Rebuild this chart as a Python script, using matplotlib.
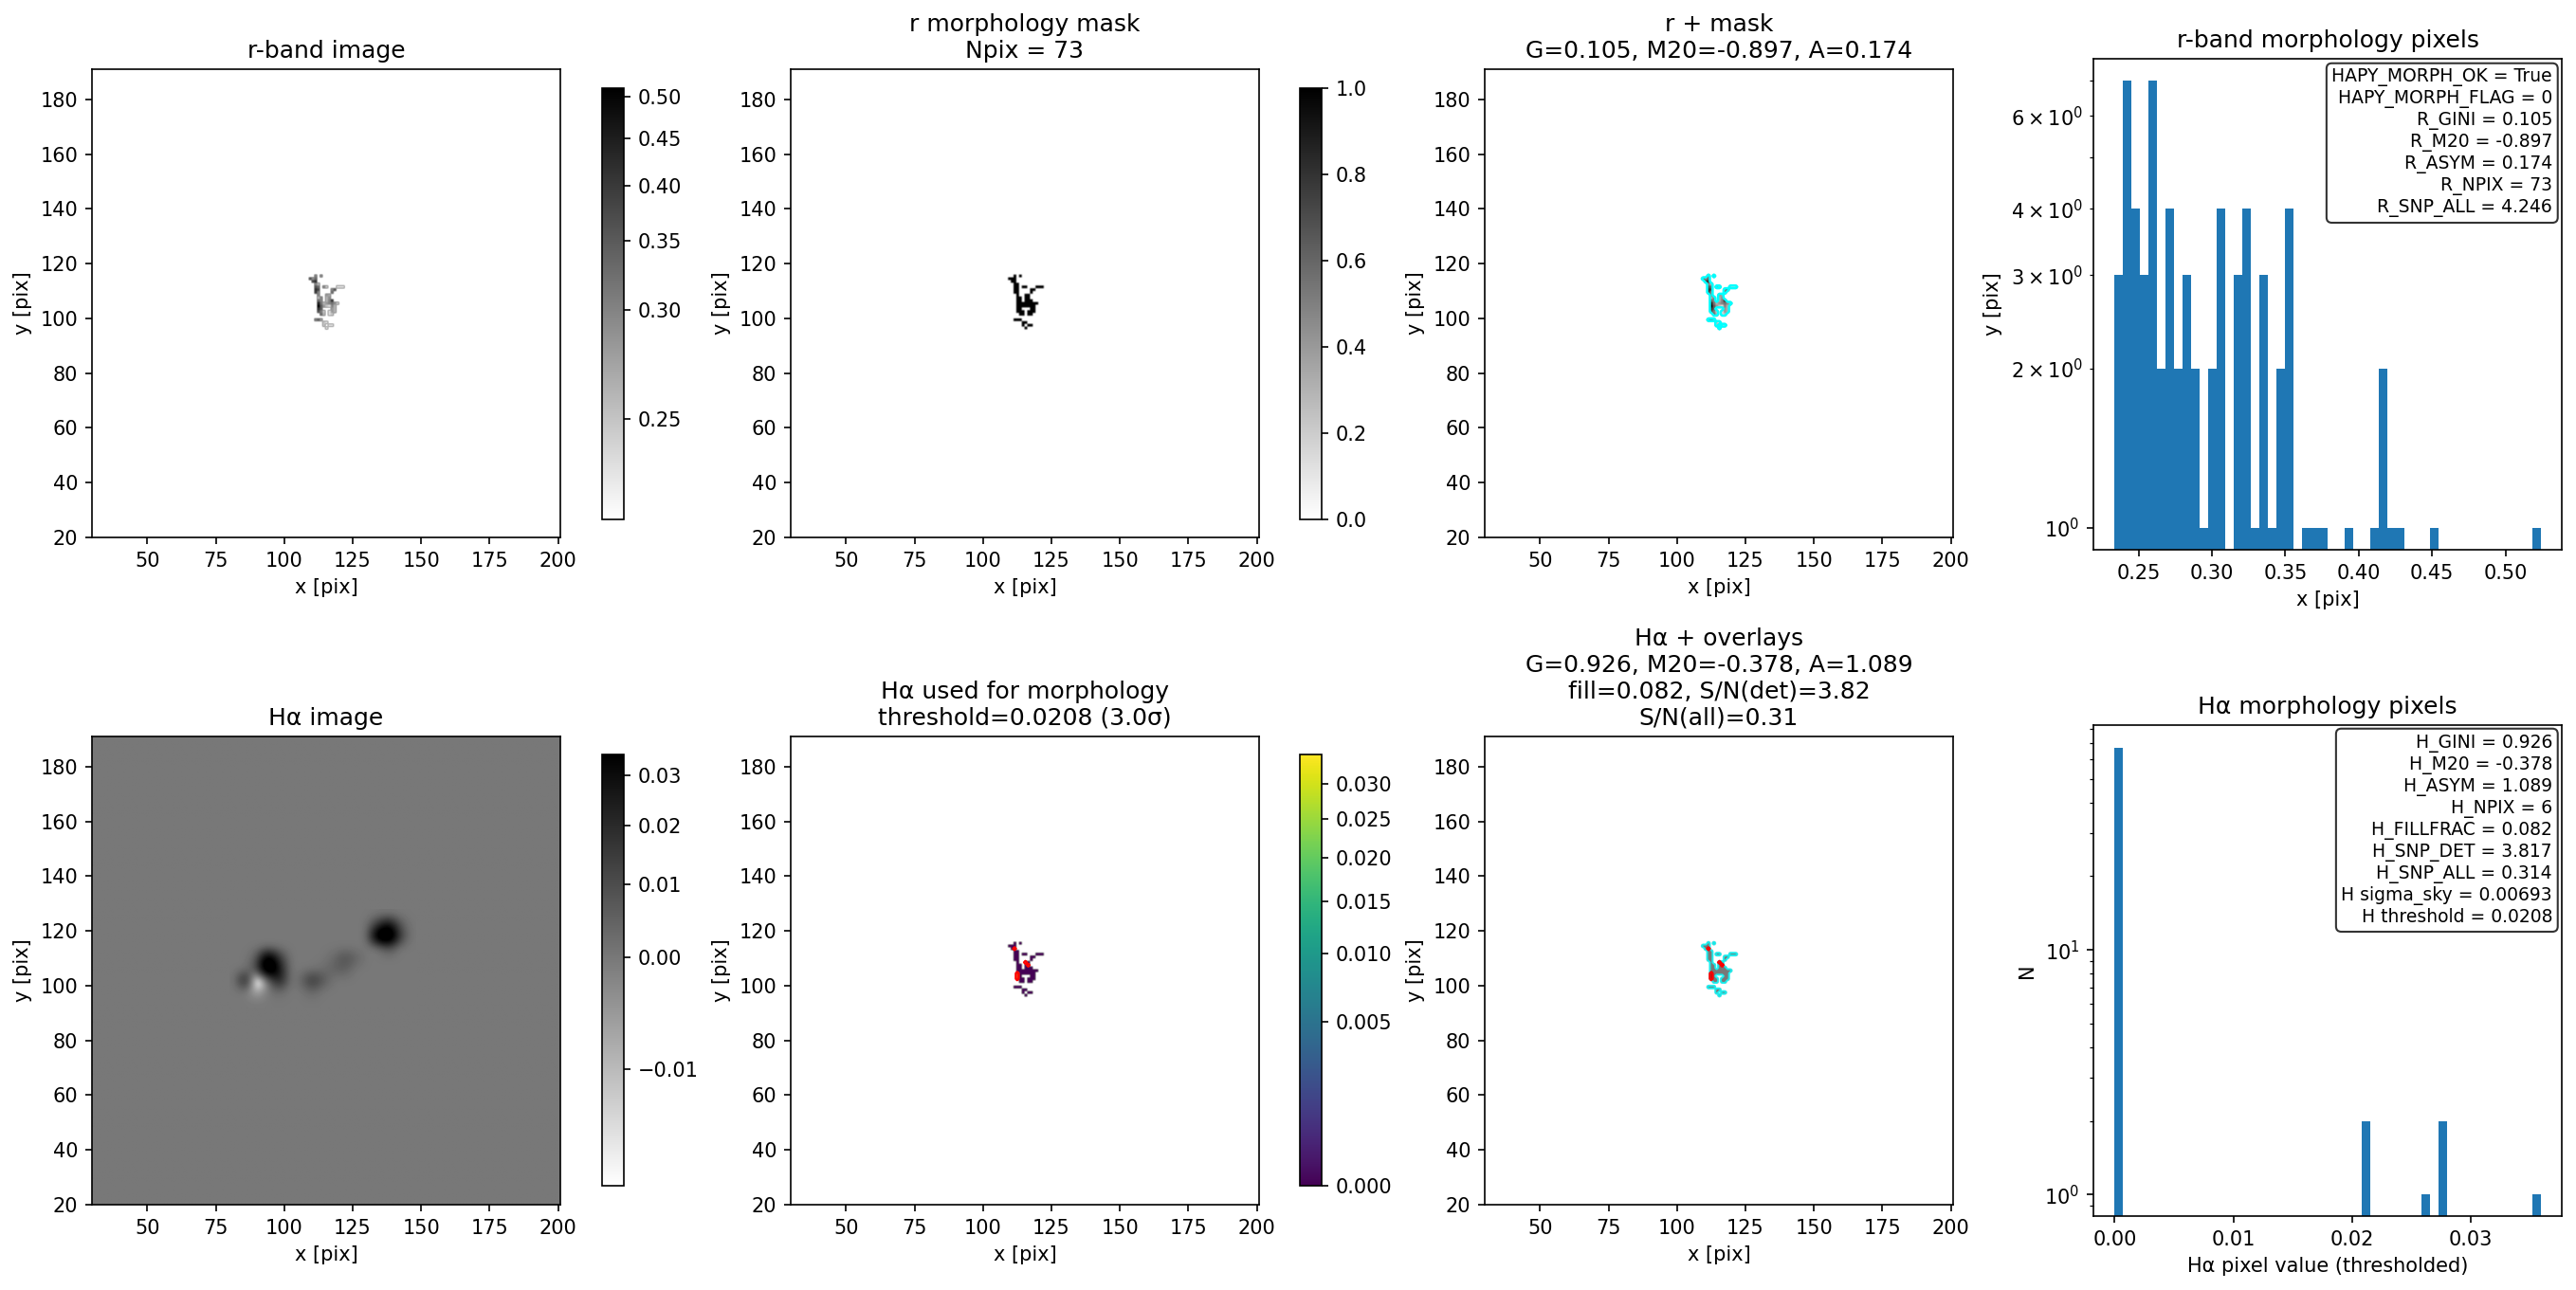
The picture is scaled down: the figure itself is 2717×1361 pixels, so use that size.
import numpy as np
import matplotlib
matplotlib.use("Agg")
import matplotlib.pyplot as plt
from matplotlib.colors import PowerNorm

W, H, DPI = 2717, 1361, 150

# morphology mask pixels, row by row
mask_y = [115.5, 114.5, 113.5, 112.5, 111.5, 110.5, 109.5, 108.5, 107.5, 106.5,
          105.5, 104.5, 103.5, 102.5, 101.5, 99.5, 98.5, 97.5, 96.5]
mask_x = [[111.5, 113.5],
          [109.5, 110.5, 111.5],
          [110.5, 111.5],
          [111.5, 112.5],
          [111.5, 112.5, 114.5, 115.5, 119.5, 120.5, 121.5],
          [111.5, 112.5, 117.5, 118.5],
          [111.5, 112.5, 117.5],
          [112.5, 115.5, 116.5],
          [112.5, 113.5, 115.5, 116.5],
          [112.5, 113.5, 115.5, 116.5, 117.5],
          [112.5, 113.5, 114.5, 115.5, 116.5, 117.5, 118.5, 119.5],
          [112.5, 113.5, 114.5, 115.5, 116.5, 117.5, 118.5],
          [112.5, 113.5, 117.5, 118.5],
          [112.5, 113.5, 114.5, 116.5, 117.5, 118.5],
          [113.5, 114.5, 116.5, 117.5],
          [111.5, 112.5, 113.5],
          [114.5, 115.5],
          [114.5, 116.5, 117.5],
          [115.5]]
mask_r = [[.30, .30],
          [.36, .29, .33],
          [.38, .42],
          [.30, .26],
          [.36, .33, .30, .25, .24, .24, .24],
          [.42, .38, .30, .36],
          [.40, .30, .33],
          [.30, .28, .27],
          [.26, .30, .26, .29],
          [.33, .30, .26, .30, .41],
          [.45, .32, .26, .28, .30, .32, .29, .25],
          [.52, .35, .28, .25, .24, .30, .26],
          [.42, .35, .28, .26],
          [.36, .31, .25, .24, .28, .26],
          [.33, .26, .24, .25],
          [.31, .34, .28],
          [.25, .24],
          [.25, .24, .24],
          [.24]]

# Halpha pixels above threshold
ha_x = [111.5, 115.5, 116.5, 112.5, 112.5, 112.5]
ha_y = [113.5, 108.5, 107.5, 104.5, 103.5, 102.5]
ha_v = [.026, .021, .021, .0275, .0355, .0275]

# large scale structure of the Halpha image, 4 pix cells over x 80-148, y 92-128.
# The pixel noise of the original can't be read off, so the sky is left flat.
# Cores are saturated in the original, so those cells sit past the colour limits.
ha_sky = 0.0
ha_cells = [
    [0, 0, 0, 0, 0, 0, 0, 0, 0, 0, 0, 0, 0, 0, 0, 0, 0],
    [0, 0, 0, 0, 0, 0, 0, 0, 0, 0, 0, 0, 0, .018, .036, .008, 0],
    [0, 0, 0, 0, 0, 0, 0, 0, 0, 0, 0, 0, 0, .050, .060, .016, 0],
    [0, 0, 0, 0, 0, 0, 0, 0, 0, 0, 0, 0, 0, 0, .010, 0, 0],
    [0, 0, .006, .050, .018, 0, 0, 0, 0, .003, .010, .005, 0, 0, 0, 0, 0],
    [0, 0, .012, .060, .030, 0, 0, 0, .002, .005, .006, 0, 0, 0, 0, 0, 0],
    [0, .028, -.030, 0, .028, 0, .003, .018, .008, 0, 0, 0, 0, 0, 0, 0, 0],
    [0, 0, -.010, 0, .003, 0, 0, .004, 0, 0, 0, 0, 0, 0, 0, 0, 0],
    [0, 0, 0, 0, 0, 0, 0, 0, 0, 0, 0, 0, 0, 0, 0, 0, 0],
]

r_hist_range = [0.2338, 0.5238]
r_hist_counts = [3, 7, 4, 3, 7, 2, 4, 2, 3, 2, 1, 2, 4, 0, 3, 4, 1, 3, 1, 2, 4, 0, 1, 1, 1,
                 0, 0, 1, 0, 0, 1, 2, 1, 1, 0, 0, 0, 1, 0, 0, 0, 0, 0, 0, 0, 0, 0, 0, 0, 1]
ha_hist_range = [0.0, 0.0359]
ha_hist_counts = [67, 0, 0, 0, 0, 0, 0, 0, 0, 0, 0, 0, 0, 0, 0, 0, 0, 0, 0, 0, 0, 0, 0, 0, 0,
                  0, 0, 0, 0, 2, 0, 0, 0, 0, 0, 0, 1, 0, 2, 0, 0, 0, 0, 0, 0, 0, 0, 0, 0, 1]
ha_hist_ticks = [0.0, 0.01, 0.02, 0.03]

r_lines = ["HAPY_MORPH_OK = True", "HAPY_MORPH_FLAG = 0", "R_GINI = 0.105", "R_M20 = -0.897",
           "R_ASYM = 0.174", "R_NPIX = 73", "R_SNP_ALL = 4.246"]
ha_lines = ["H_GINI = 0.926", "H_M20 = -0.378", "H_ASYM = 1.089", "H_NPIX = 6", "H_FILLFRAC = 0.082",
            "H_SNP_DET = 3.817", "H_SNP_ALL = 0.314", "H sigma_sky = 0.00693", "H threshold = 0.0208"]

# image grid
x_edges = np.arange(29, 202)
y_edges = np.arange(19, 193)
x_c = x_edges[:-1] + 0.5
y_c = y_edges[:-1] + 0.5
extent = [x_edges[0], x_edges[-1], y_edges[0], y_edges[-1]]
shape = (len(y_c), len(x_c))

r_img = np.full(shape, np.nan)
mask = np.zeros(shape)
ha_thr = np.full(shape, np.nan)
for yy, xs, vs in zip(mask_y, mask_x, mask_r):
    j = int(yy - y_edges[0])
    for xx, vv in zip(xs, vs):
        i = int(xx - x_edges[0])
        r_img[j, i] = vv
        mask[j, i] = 1
        ha_thr[j, i] = 0.0
ha_mask = np.zeros(shape)
for xx, yy, vv in zip(ha_x, ha_y, ha_v):
    i, j = int(xx - x_edges[0]), int(yy - y_edges[0])
    ha_thr[j, i] = vv
    ha_mask[j, i] = 1

r_norm = PowerNorm(0.5, vmin=0.2349, vmax=0.5111)
ha_norm = PowerNorm(0.5, vmin=-0.01351, vmax=0.03457)
thr_norm = PowerNorm(0.5, vmin=0.0, vmax=0.0346)


def px_axes(fig, left, top, right, bottom):
    return fig.add_axes([left / W, 1 - bottom / H, (right - left) / W, (bottom - top) / H])


def image_panel(ax, img, title, **kw):
    im = ax.imshow(img, origin="lower", extent=extent, **kw)
    ax.set_xlim(29.8, 200.8)
    ax.set_ylim(20, 191)
    ax.set_xticks(np.arange(50, 201, 25))
    ax.set_yticks(np.arange(20, 181, 20))
    ax.set_xlabel("x [pix]")
    ax.set_ylabel("y [pix]")
    ax.set_title(title, fontsize=12)
    return im


def hist_panel(ax, counts, hist_range, title, xlabel, ylabel, lines, ylim):
    edges = np.linspace(hist_range[0], hist_range[1], len(counts) + 1)
    ax.hist(0.5 * (edges[:-1] + edges[1:]), bins=edges, weights=counts, log=True)
    ax.set_ylim(*ylim)
    ax.set_xlabel(xlabel)
    ax.set_ylabel(ylabel)
    ax.set_title(title, fontsize=12)
    ax.text(0.98, 0.98, "\n".join(lines), transform=ax.transAxes, ha="right", va="top", fontsize=9,
            bbox=dict(boxstyle="round", facecolor="white", alpha=0.8))


fig = plt.figure(figsize=(W / DPI, H / DPI), dpi=DPI)

col_left = [97, 834, 1566]
col_cb = [635, 1371]
row_top = [73, 777]
cb_top = [93, 796]
cb_bot = [548, 1251]
IM = 494
CB = 23

# top row
ax = px_axes(fig, col_left[0], row_top[0], col_left[0] + IM, row_top[0] + IM)
im = image_panel(ax, r_img, "r-band image", cmap="gray_r", norm=r_norm)
fig.colorbar(im, cax=px_axes(fig, col_cb[0], cb_top[0], col_cb[0] + CB, cb_bot[0]))

ax = px_axes(fig, col_left[1], row_top[0], col_left[1] + IM, row_top[0] + IM)
im = image_panel(ax, mask, "r morphology mask\nNpix = 73", cmap="gray_r", vmin=0, vmax=1)
fig.colorbar(im, cax=px_axes(fig, col_cb[1], cb_top[0], col_cb[1] + CB, cb_bot[0]))

ax = px_axes(fig, col_left[2], row_top[0], col_left[2] + IM, row_top[0] + IM)
image_panel(ax, r_img, "r + mask\nG=0.105, M20=-0.897, A=0.174", cmap="gray_r", norm=r_norm)
ax.contour(x_c, y_c, mask, levels=[0.5], colors="cyan", linewidths=1.2)

ax = px_axes(fig, 2208, 62, 2702, 580)
hist_panel(ax, r_hist_counts, r_hist_range, "r-band morphology pixels", "x [pix]", "y [pix]", r_lines, (0.908, 7.69))

# bottom row
ha_img = np.full(shape, ha_sky)
ax = px_axes(fig, col_left[0], row_top[1], col_left[0] + IM, row_top[1] + IM)
im = image_panel(ax, ha_img, "H\u03b1 image", cmap="gray_r", norm=ha_norm)
ax.imshow(np.array(ha_cells), origin="upper", extent=[80, 148, 92, 128], cmap="gray_r",
          norm=ha_norm, interpolation="bicubic", aspect="auto")
ax.set_xlim(29.8, 200.8)
ax.set_ylim(20, 191)
fig.colorbar(im, cax=px_axes(fig, col_cb[0], cb_top[1], col_cb[0] + CB, cb_bot[1]))

ax = px_axes(fig, col_left[1], row_top[1], col_left[1] + IM, row_top[1] + IM)
im = image_panel(ax, ha_thr, "H\u03b1 used for morphology\nthreshold=0.0208 (3.0\u03c3)", cmap="viridis", norm=thr_norm)
ax.contour(x_c, y_c, ha_mask, levels=[0.5], colors="red", linewidths=1.2)
cb = fig.colorbar(im, cax=px_axes(fig, col_cb[1], cb_top[1], col_cb[1] + CB, cb_bot[1]))
cb.set_ticks(np.arange(0, 0.031, 0.005))

ax = px_axes(fig, col_left[2], row_top[1], col_left[2] + IM, row_top[1] + IM)
image_panel(ax, ha_thr, "H\u03b1 + overlays\nG=0.926, M20=-0.378, A=1.089\nfill=0.082, S/N(det)=3.82\nS/N(all)=0.31",
            cmap="gray_r", norm=ha_norm)
ax.contour(x_c, y_c, mask, levels=[0.5], colors="cyan", linewidths=1.0, alpha=0.8)
ax.contour(x_c, y_c, ha_mask, levels=[0.5], colors="red", linewidths=1.2)

ax = px_axes(fig, 2208, 765, 2702, 1283)
hist_panel(ax, ha_hist_counts, ha_hist_range, "H\u03b1 morphology pixels", "H\u03b1 pixel value (thresholded)", "N",
           ha_lines, (0.816, 83))
ax.set_xticks(ha_hist_ticks)

fig.savefig("out.png", dpi=DPI)
